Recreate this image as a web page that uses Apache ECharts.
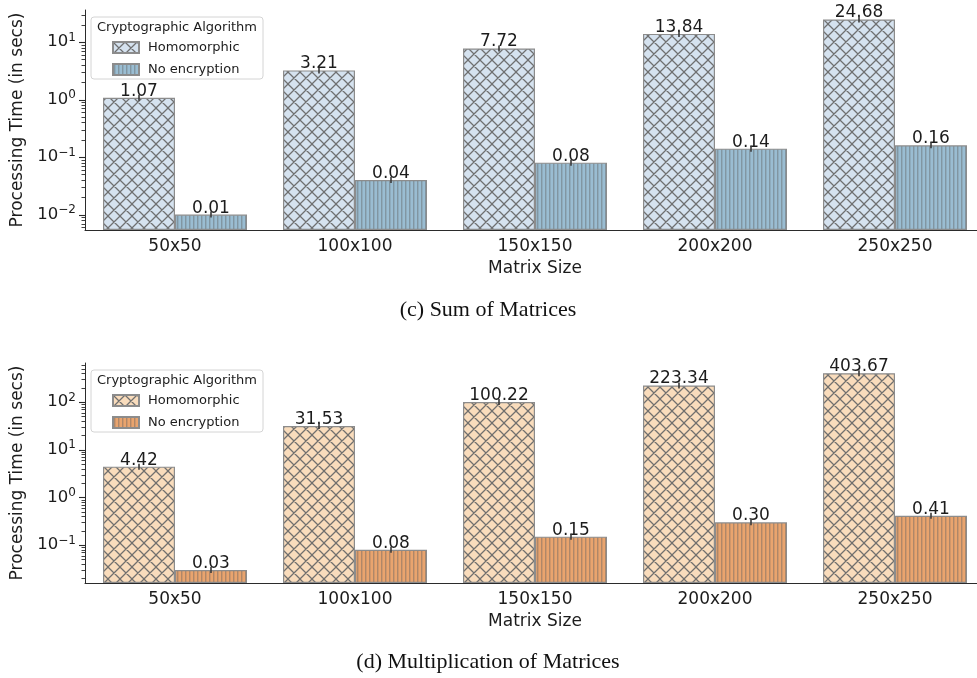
<!DOCTYPE html>
<html>
<head>
<meta charset="utf-8">
<script src="https://cdn.jsdelivr.net/npm/echarts@6/dist/echarts.min.js"></script>
<style>
  html, body { margin: 0; padding: 0; background: #ffffff; overflow: hidden; }
  .panel { width: 985px; height: 339px; }
</style>
</head>
<body>
<div id="sum" class="panel"></div>
<div id="mul" class="panel"></div>
<script>
// ---- data ----
const categories = ['50x50', '100x100', '150x150', '200x200', '250x250'];
const seriesNames = ['Homomorphic', 'No encryption'];

const sumHomomorphic = [1.07, 3.21, 7.72, 13.84, 24.68];
const sumNoEncryption = [0.01, 0.04, 0.08, 0.14, 0.16];

const mulHomomorphic = [4.42, 31.53, 100.22, 223.34, 403.67];
const mulNoEncryption = [0.03, 0.08, 0.15, 0.30, 0.41];

const sumAxisRange = [0.0054, 36];
const mulAxisRange = [0.016, 660];

const legendTitle = 'Cryptographic Algorithm';
const xAxisTitle = 'Matrix Size';
const yAxisTitle = 'Processing Time (in secs)';
const sumCaption = '(c) Sum of Matrices';
const mulCaption = '(d) Multiplication of Matrices';

// ---- styling helpers ----
const INK = '#1c1c1c';
const AXIS = '#2b2b2b';
const EDGE = '#8c8c8c';
const FONT = 'DejaVu Sans';

// Cross-hatch ("x") fill drawn on a small repeating canvas tile.
function crossHatch(face) {
  const P = 12;
  const c = document.createElement('canvas');
  c.width = P; c.height = P;
  const g = c.getContext('2d');
  g.fillStyle = face;
  g.fillRect(0, 0, P, P);
  g.strokeStyle = 'rgba(105,105,105,0.95)';
  g.lineWidth = 1.25;
  g.beginPath();
  for (const o of [-P, 0, P]) {
    g.moveTo(o, 0); g.lineTo(o + P, P);
    g.moveTo(o + P, 0); g.lineTo(o, P);
  }
  g.stroke();
  return { image: c, repeat: 'repeat' };
}

// Vertical line hatch ("|") fill.
function vHatch(face) {
  const P = 4;
  const c = document.createElement('canvas');
  c.width = P; c.height = P;
  const g = c.getContext('2d');
  g.fillStyle = face;
  g.fillRect(0, 0, P, P);
  g.fillStyle = 'rgba(95,95,95,0.42)';
  g.fillRect(1, 0, 1, P);
  g.fillStyle = 'rgba(95,95,95,0.18)';
  g.fillRect(2, 0, 1, P);
  return { image: c, repeat: 'repeat' };
}

function supLabel(v) {
  const e = Math.log10(v);
  const r = Math.round(e);
  if (Math.abs(e - r) > 1e-6) return '';
  return '10{sup|' + (r < 0 ? '\u2212' + (-r) : String(r)) + '}';
}

// Small centred tick at each bar top (aggregate spread marker).
function spreadMarks(values, side) {
  return {
    type: 'custom',
    silent: true,
    z: 3,
    data: values.map((v, i) => [i, v]),
    renderItem(params, api) {
      const p = api.coord([api.value(0), api.value(1)]);
      const band = api.size([1, 0])[0];
      const x = p[0] + side * 0.2 * band;
      return {
        type: 'line',
        shape: { x1: x, y1: p[1] - 3, x2: x, y2: p[1] + 3 },
        style: { stroke: '#3a3a3a', lineWidth: 1.6 }
      };
    }
  };
}

// Major and minor log ticks on the value axis.
function logTicks(range) {
  const ticks = [];
  for (let k = -4; k <= 4; k++) {
    for (let m = 1; m <= 9; m++) {
      const v = m * Math.pow(10, k);
      if (v >= range[0] && v <= range[1]) ticks.push([0, v, m === 1 ? 1 : 0]);
    }
  }
  return {
    type: 'custom',
    silent: true,
    clip: false,
    z: 5,
    data: ticks,
    renderItem(params, api) {
      const y = Math.round(api.coord([0, api.value(1)])[1]) + 0.5;
      const x0 = params.coordSys.x;
      const len = api.value(2) ? 6 : 3.5;
      return {
        type: 'line',
        shape: { x1: x0 - len, y1: y, x2: x0, y2: y },
        style: { stroke: AXIS, lineWidth: api.value(2) ? 1.1 : 0.9 }
      };
    }
  };
}

function buildOption(cfg) {
  const T = cfg.gridTop;
  const barSeries = (name, values, fill) => ({
    name: name,
    type: 'bar',
    data: values,
    barGap: '0%',
    barCategoryGap: '20%',
    itemStyle: { color: fill, borderColor: EDGE, borderWidth: 1.2 },
    label: {
      show: true,
      position: 'top',
      distance: -2,
      fontSize: 17,
      fontFamily: FONT,
      color: INK,
      formatter: p => p.value.toFixed(2)
    },
    emphasis: { disabled: true }
  });

  return {
    animation: false,
    textStyle: { fontFamily: FONT, color: INK },
    grid: { left: 85, top: T, width: 900, height: 220 },
    legend: {
      data: seriesNames,
      orient: 'vertical',
      left: 112,
      top: T + 31,
      padding: 0,
      itemWidth: 26,
      itemHeight: 11,
      itemGap: 9,
      icon: 'rect',
      selectedMode: false,
      z: 6,
      textStyle: { fontSize: 13, color: INK, fontFamily: FONT, padding: [0, 0, 0, 4] }
    },
    graphic: [
      {
        type: 'rect',
        z: 1,
        shape: { x: 91, y: T + 7, width: 172, height: 62, r: 3 },
        style: { fill: 'rgba(255,255,255,0.85)', stroke: '#d4d4d4', lineWidth: 1 }
      },
      {
        type: 'text',
        z: 7,
        x: 177,
        y: T + 18,
        style: {
          text: legendTitle, fontSize: 13, fontFamily: FONT, fill: INK,
          textAlign: 'center', textVerticalAlign: 'middle'
        }
      },
      {
        type: 'text',
        z: 7,
        x: 488,
        y: cfg.captionY,
        style: {
          text: cfg.caption, fontSize: 22, fontFamily: 'Liberation Serif', fill: '#111',
          textAlign: 'center', textVerticalAlign: 'middle'
        }
      }
    ],
    xAxis: {
      type: 'category',
      data: categories,
      axisLine: { lineStyle: { color: AXIS, width: 1 } },
      axisTick: { alignWithLabel: true, length: 5, lineStyle: { color: AXIS } },
      axisLabel: { fontSize: 17, margin: 8, color: INK, fontFamily: FONT },
      name: xAxisTitle,
      nameLocation: 'middle',
      nameGap: 30,
      nameTextStyle: { fontSize: 17, color: INK, fontFamily: FONT }
    },
    yAxis: {
      type: 'log',
      logBase: 10,
      min: cfg.range[0],
      max: cfg.range[1],
      startValue: cfg.range[0],
      splitLine: { show: false },
      axisTick: { show: false },
      axisLine: { show: true, lineStyle: { color: AXIS, width: 1 } },
      axisLabel: {
        margin: 9,
        fontSize: 16.5,
        color: INK,
        fontFamily: FONT,
        showMinLabel: false,
        showMaxLabel: false,
        formatter: supLabel,
        rich: { sup: { fontSize: 12, color: INK, fontFamily: FONT, padding: [0, 0, 9, 0] } }
      },
      name: yAxisTitle,
      nameLocation: 'middle',
      nameGap: 58,
      nameTextStyle: { fontSize: 17, color: INK, fontFamily: FONT }
    },
    series: [
      barSeries(seriesNames[0], cfg.homomorphic, crossHatch(cfg.faces[0])),
      barSeries(seriesNames[1], cfg.plain, vHatch(cfg.faces[1])),
      spreadMarks(cfg.homomorphic, -1),
      spreadMarks(cfg.plain, 1),
      logTicks(cfg.range)
    ]
  };
}

const sumChart = echarts.init(document.getElementById('sum'), null, { renderer: 'canvas' });
sumChart.setOption(buildOption({
  gridTop: 10,
  range: sumAxisRange,
  homomorphic: sumHomomorphic,
  plain: sumNoEncryption,
  faces: ['#d5e2ef', '#9abdd2'],
  caption: sumCaption,
  captionY: 310
}));

const mulChart = echarts.init(document.getElementById('mul'), null, { renderer: 'canvas' });
mulChart.setOption(buildOption({
  gridTop: 24,
  range: mulAxisRange,
  homomorphic: mulHomomorphic,
  plain: mulNoEncryption,
  faces: ['#f9dcbc', '#e9a46e'],
  caption: mulCaption,
  captionY: 323
}));
</script>
</body>
</html>
